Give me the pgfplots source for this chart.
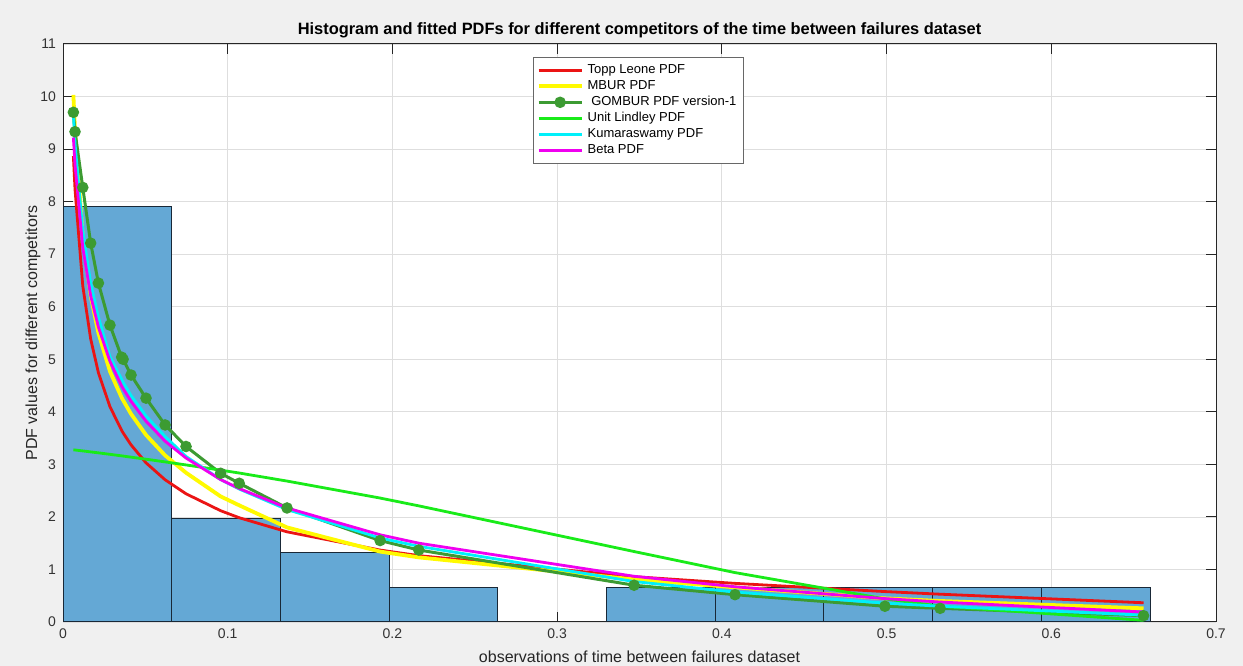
\documentclass[border=0pt]{standalone}
\usepackage{fontspec}
\setmainfont{Liberation Sans}
\usepackage{pgfplots}
\usepackage{pgfplotstable}
\pgfplotsset{compat=1.18}
\usetikzlibrary{backgrounds}
\definecolor{figbg}{RGB}{240,240,240}
\definecolor{barfill}{RGB}{100,168,213}
\definecolor{baredge}{RGB}{25,40,55}
\definecolor{tlred}{RGB}{235,20,20}
\definecolor{mburyellow}{RGB}{255,250,0}
\definecolor{gombur}{RGB}{60,155,50}
\definecolor{ulgreen}{RGB}{25,235,25}
\definecolor{kumcyan}{RGB}{0,240,250}
\definecolor{betamag}{RGB}{240,0,240}
\definecolor{axgray}{RGB}{38,38,38}
\pgfplotstableread{
x tl mbur gombur ul kum beta
0.0063 8.867 10.03 9.70 3.277 9.65 9.22
0.0073 8.231 9.36 9.33 3.273 9.10 8.70
0.0120 6.397 7.33 8.27 3.256 7.45 7.13
0.0168 5.387 6.21 7.21 3.237 6.45 6.21
0.0215 4.744 5.50 6.45 3.219 5.80 5.61
0.0285 4.098 4.77 5.65 3.191 5.05 4.96
0.0356 3.647 4.27 5.04 3.162 4.62 4.49
0.0365 3.599 4.22 5.00 3.158 4.56 4.44
0.0413 3.371 3.96 4.70 3.137 4.31 4.20
0.0504 3.029 3.56 4.26 3.098 3.92 3.82
0.0620 2.706 3.17 3.75 3.047 3.53 3.44
0.0747 2.440 2.84 3.34 2.989 3.15 3.12
0.0957 2.118 2.39 2.83 2.890 2.71 2.71
0.1070 1.984 2.22 2.64 2.835 2.53 2.54
0.1360 1.716 1.80 2.17 2.682 2.14 2.17
0.1925 1.369 1.34 1.55 2.359 1.60 1.66
0.2160 1.263 1.23 1.37 2.210 1.44 1.50
0.3467 0.863 0.81 0.70 1.341 0.77 0.87
0.4080 0.735 0.66 0.52 0.940 0.57 0.67
0.4990 0.579 0.45 0.30 0.440 0.36 0.445
0.5325 0.529 0.40 0.26 0.301 0.30 0.38
0.6560 0.366 0.26 0.12 0.032 0.13 0.19
}\curves
\begin{document}
\begin{tikzpicture}
\begin{axis}[
  name=ax,
  scale only axis, width=576.5pt, height=289pt,
  xmin=0, xmax=0.7, ymin=0, ymax=11,
  xtick={0,0.1,0.2,0.3,0.4,0.5,0.6,0.7},
  xticklabels={0,0.1,0.2,0.3,0.4,0.5,0.6,0.7},
  ytick={0,1,2,3,4,5,6,7,8,9,10,11},
  yticklabels={0,1,2,3,4,5,6,7,8,9,10,11},
  tick align=inside, xtick pos=both, ytick pos=both,
  major tick length=5pt,
  grid=major, grid style={color=black!13, line width=0.4pt},
  axis line style={axgray, line width=0.5pt},
  tick style={axgray, line width=0.5pt},
  axis background/.style={fill=white},
  ticklabel style={font=\fontsize{7}{8}\selectfont, text=black!80},
  xlabel={observations of time between failures dataset},
  ylabel={PDF values for different competitors},
  label style={font=\fontsize{8}{9}\selectfont, text=black!85},
  xlabel style={at={(axis description cs:0.5,-0.0606)}, anchor=center},
  ylabel style={at={(axis description cs:-0.0260,0.5)}, anchor=center},
  title={Histogram and fitted PDFs for different competitors of the time between failures dataset},
  title style={font=\bfseries\fontsize{8.2}{9}\selectfont, at={(axis description cs:0.5,1.0277)}, anchor=center, yshift=-7pt},
  legend image code/.code={\draw[mark repeat=2,mark phase=2,#1] plot coordinates {(0cm,0cm) (0.38cm,0cm) (0.76cm,0cm)};},
  legend style={at={(axis cs:0.2854,10.75)}, anchor=north west, font=\fontsize{6.5}{7.5}\selectfont,
    draw=axgray!70, fill=white, line width=0.5pt, inner sep=1.5pt, row sep=-2.1pt},
  legend cell align=left,
]
\addplot[ybar interval, fill=barfill, draw=baredge, line width=0.5pt, forget plot]
  coordinates {(0,7.905) (0.066,1.976) (0.132,1.318) (0.198,0.659) (0.264,0.659)};
\addplot[ybar interval, fill=barfill, draw=baredge, line width=0.5pt, forget plot]
  coordinates {(0.33,0.659) (0.396,0.659) (0.462,0.659) (0.528,0.659) (0.594,0.659) (0.66,0.659)};
\addplot[tlred, line width=1.4pt] table[x=x, y=tl]{\curves};
\addlegendentry{Topp Leone PDF}
\addplot[mburyellow, line width=1.9pt] table[x=x, y=mbur]{\curves};
\addlegendentry{MBUR PDF}
\addplot[gombur, line width=1.5pt, mark=*, mark size=2.1pt, mark options={fill=gombur, draw=gombur}] table[x=x, y=gombur]{\curves};
\addlegendentry{\ GOMBUR PDF version-1}
\addplot[ulgreen, line width=1.4pt] table[x=x, y=ul]{\curves};
\addlegendentry{Unit Lindley PDF}
\addplot[kumcyan, line width=1.4pt] table[x=x, y=kum]{\curves};
\addlegendentry{Kumaraswamy PDF}
\addplot[betamag, line width=1.4pt] table[x=x, y=beta]{\curves};
\addlegendentry{Beta PDF}
\end{axis}
\begin{scope}[on background layer]
\fill[figbg] ([xshift=-31.5pt,yshift=-22pt]ax.south west) rectangle ([xshift=13.5pt,yshift=22pt]ax.north east);
\end{scope}
\pgfresetboundingbox
\useasboundingbox ([xshift=-31.5pt,yshift=-22pt]ax.south west) rectangle ([xshift=13.5pt,yshift=22pt]ax.north east);
\end{tikzpicture}
\end{document}
